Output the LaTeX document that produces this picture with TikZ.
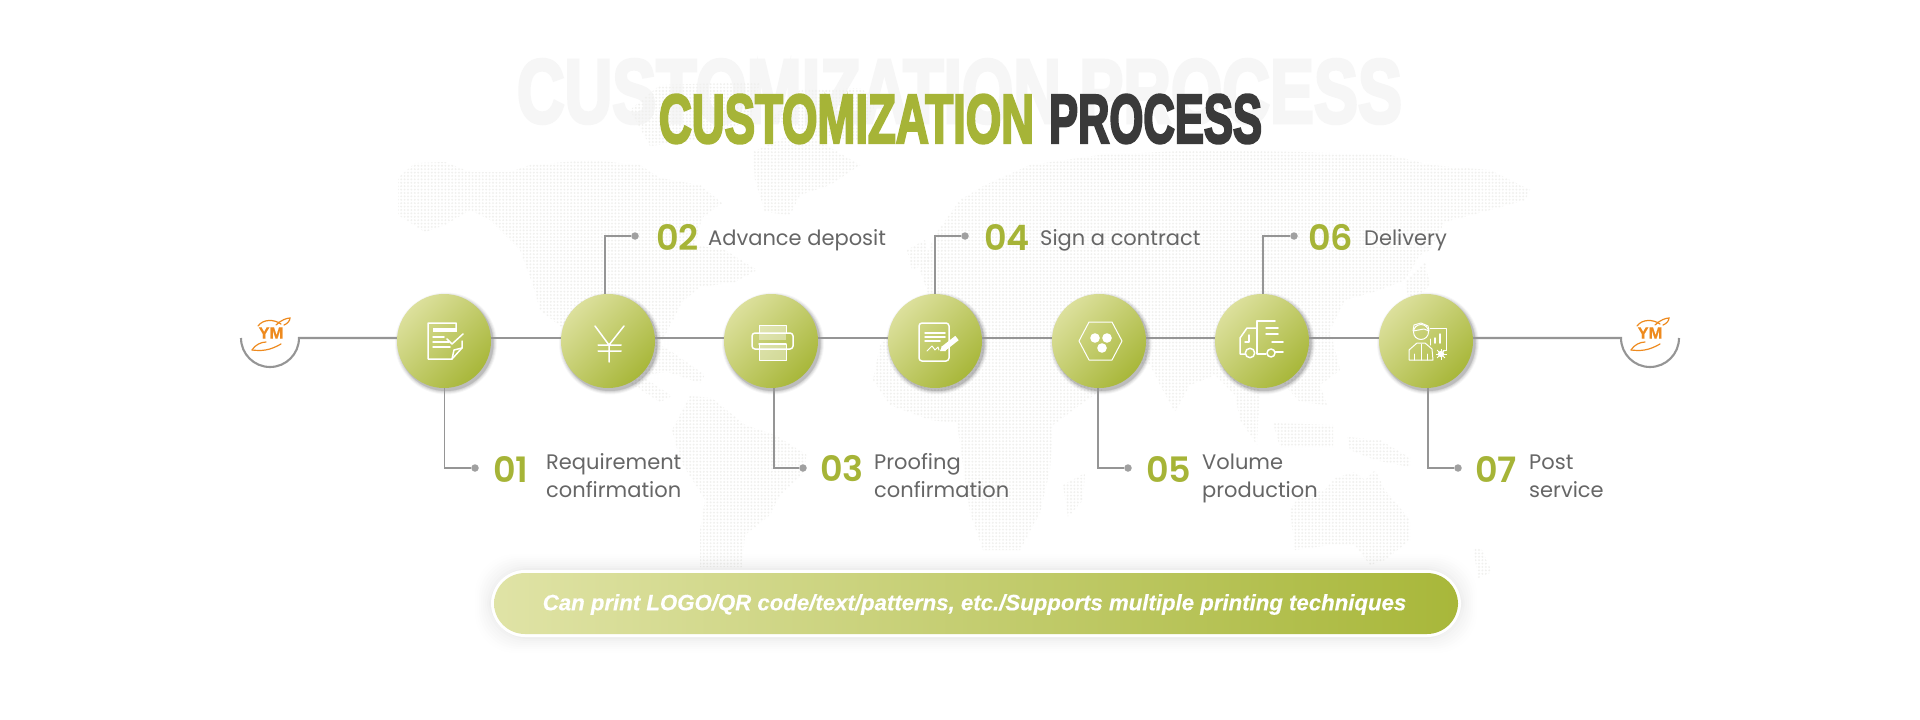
\documentclass[tikz,border=0pt]{standalone}
\usepackage{fontspec}
\usetikzlibrary{patterns.meta}
\setmainfont{Liberation Sans}
\newfontfamily\labf{Poppins}
\newfontfamily\numf{Poppins SemiBold}
\newfontfamily\titf[FakeBold=4]{Liberation Sans}
\newfontfamily\banf[FakeBold=.4]{Liberation Sans}
\definecolor{olive}{HTML}{A6B437}
\definecolor{dark}{HTML}{3A3A3A}
\definecolor{ghost}{HTML}{F6F6F6}
\definecolor{mapdot}{HTML}{F0F0EE}
\definecolor{linegray}{HTML}{959595}
\definecolor{labgray}{HTML}{666666}
\definecolor{ymorange}{HTML}{EE8A1E}
\definecolor{D1}{HTML}{DCE09C}
\definecolor{D2}{HTML}{A8B73A}
\tikzset{
  stepdisc/.style={circle,minimum size=94pt,inner sep=0pt,top color=D1,bottom color=D2,shading angle=45},
  conn/.style={draw=linegray,line width=2.1pt},
  brk/.style={draw=linegray,line width=1.9pt},
  enddot/.style={circle,fill=linegray!90,minimum size=7.5pt,inner sep=0pt},
  numlab/.style={anchor=west,inner sep=0pt,text=olive,font=\numf\fontsize{35}{35}\selectfont},
  steplab/.style={anchor=base west,inner sep=0pt,text=labgray,align=left,font=\labf\fontsize{21}{28}\selectfont},
  ico/.style={draw=white,line width=1.5pt,line cap=round,line join=round},
  icothin/.style={draw=white,line width=1pt,line cap=round,line join=round},
  land/.style={pattern={Dots[radius=1.05pt,distance=3.4pt]},pattern color=mapdot},
  swoosh/.style={draw=ymorange,line width=1.2pt,line cap=round},
}
\newcommand{\stepnode}[3]{%
  \foreach \r/\o in {51/.03,50/.05,49/.06,48/.07,47.5/.08}{\fill[black,opacity=\o] (#2+2,#3+2.5) circle (\r pt);}
  \node[stepdisc] (#1) at (#2,#3) {};}
\begin{document}
\begin{tikzpicture}[x=1pt,y=-1pt]
\useasboundingbox (0,0) rectangle (1920,720);
\fill[white] (0,0) rectangle (1920,720);
% ghost title
\node[inner sep=0pt,text=ghost] (ghost) at (959.5,91.5) {\resizebox{885pt}{63pt}{\titf\bfseries CUSTOMIZATION PROCESS}};
% world map
\path[land] (398,178) -- (415,163) -- (445,162) -- (470,172) -- (510,172) -- (530,165) -- (590,160) -- (640,165) -- (660,178) -- (700,185) -- (722,203) -- (702,218) -- (695,245) -- (725,250) -- (757,270) -- (735,282) -- (700,287) -- (682,302) -- (672,322) -- (660,345) -- (672,352) -- (705,375) -- (700,383) -- (668,372) -- (640,375) -- (672,396) -- (660,402) -- (625,380) -- (590,350) -- (565,330) -- (540,310) -- (533,285) -- (520,250) -- (490,220) -- (470,210) -- (445,225) -- (425,232) -- (398,215) -- cycle;
\path[land] (630,110) -- (660,85) -- (760,82) -- (750,120) -- (700,140) -- (650,146) -- cycle;
\path[land] (753,152) -- (790,135) -- (857,140) -- (878,100) -- (860,88) -- (800,90) -- (770,120) -- (800,130) -- (860,165) -- (830,185) -- (800,195) -- (790,215) -- (765,212) -- (755,180) -- cycle;
\path[land] (690,396) -- (712,398) -- (745,425) -- (775,435) -- (807,455) -- (802,475) -- (780,495) -- (770,515) -- (745,535) -- (742,567) -- (700,567) -- (700,530) -- (705,500) -- (680,460) -- (672,430) -- cycle;
\path[land] (930,300) -- (920,270) -- (935,235) -- (960,200) -- (985,185) -- (1030,165) -- (1100,155) -- (1200,150) -- (1300,152) -- (1390,155) -- (1430,165) -- (1490,170) -- (1530,190) -- (1525,200) -- (1490,210) -- (1445,222) -- (1430,250) -- (1420,255) -- (1405,280) -- (1380,290) -- (1345,300) -- (1330,330) -- (1340,370) -- (1320,385) -- (1327,405) -- (1300,402) -- (1280,380) -- (1260,385) -- (1257,445) -- (1240,420) -- (1235,395) -- (1215,375) -- (1190,385) -- (1175,412) -- (1160,385) -- (1150,365) -- (1125,360) -- (1110,385) -- (1087,400) -- (1053,425) -- (1050,470) -- (1040,513) -- (1020,550) -- (983,550) -- (970,513) -- (957,423) -- (930,420) -- (890,405) -- (873,380) -- (880,345) -- (900,320) -- cycle;
\path[land] (907,250) -- (925,240) -- (930,262) -- (912,270) -- cycle;
\path[land] (1063,485) -- (1085,473) -- (1083,500) -- (1068,517) -- cycle;
\path[land] (1273,423) -- (1333,425) -- (1333,447) -- (1280,447) -- cycle;
\path[land] (1347,437) -- (1380,440) -- (1410,458) -- (1410,467) -- (1375,460) -- (1350,450) -- cycle;
\path[land] (1290,510) -- (1300,495) -- (1325,490) -- (1335,478) -- (1355,472) -- (1365,480) -- (1375,470) -- (1385,490) -- (1410,520) -- (1410,540) -- (1385,560) -- (1370,565) -- (1355,545) -- (1330,545) -- (1295,550) -- cycle;
\path[land] (1473,547) -- (1482,550) -- (1492,572) -- (1478,578) -- cycle;
\path[land] (1405,282) -- (1425,262) -- (1430,285) -- (1410,305) -- cycle;
% title
\node[inner sep=0pt,text=olive] (title1) at (846.5,119) {\resizebox{375pt}{48pt}{\titf\bfseries CUSTOMIZATION}};
\node[inner sep=0pt,text=dark] (title2) at (1155.5,119) {\resizebox{213pt}{48pt}{\titf\bfseries PROCESS}};
% step discs
\stepnode{c1}{444}{341}
\stepnode{c2}{608}{341}
\stepnode{c3}{771}{341}
\stepnode{c4}{935}{341}
\stepnode{c5}{1099}{341}
\stepnode{c6}{1262}{341}
\stepnode{c7}{1426}{341}
% logos
\coordinate (arcLs) at (241,338);
\coordinate (arcLe) at (299,338);
\coordinate (arcRs) at (1621,338);
\coordinate (arcRe) at (1679,338);
\draw[conn] (arcLs) arc[start angle=180,end angle=360,radius=29pt] -- ([yshift=3pt]c1.west);
\draw[conn] ([yshift=3pt]c7.east) -- (arcRs) arc[start angle=180,end angle=360,radius=29pt];
\foreach \a/\b in {c1/c2,c2/c3,c3/c4,c4/c5,c5/c6,c6/c7}{\draw[conn] ([yshift=3pt]\a.east) -- ([yshift=3pt]\b.west);}
\foreach \n/\cx in {ymL/271,ymR/1650}{
  \node[inner sep=0pt,text=ymorange,font=\banf\bfseries\fontsize{16.5}{16}\selectfont] (\n) at (\cx,333) {YM};
  \begin{scope}[shift={(\n.center)}]
    \draw[swoosh] (-13,-7) .. controls (-8,-14) and (3,-14) .. (10,-9);
    \draw[swoosh] (5,-8) .. controls (10,-13) and (16,-15) .. (19,-15) .. controls (19,-12) and (16,-9) .. (13,-8);
    \draw[swoosh] (-19,17) .. controls (-16,12) and (-10,9) .. (-5,9);
    \draw[swoosh] (-19,17) .. controls (-10,18) and (-2,18) .. (10,11);
  \end{scope}
}
% brackets
\node[enddot] (d1) at (475,468) {};
\node[enddot] (d2) at (635,236) {};
\node[enddot] (d3) at (803,468) {};
\node[enddot] (d4) at (965,236) {};
\node[enddot] (d5) at (1128,468) {};
\node[enddot] (d6) at (1294,236) {};
\node[enddot] (d7) at (1458,468) {};
\draw[brk] ([xshift=.5pt]c1.south) |- (d1);
\draw[brk] ([xshift=-3pt]c2.north) |- (d2);
\draw[brk] ([xshift=3pt]c3.south) |- (d3);
\draw[brk] (c4.north) |- (d4);
\draw[brk] ([xshift=-1pt]c5.south) |- (d5);
\draw[brk] ([xshift=1pt]c6.north) |- (d6);
\draw[brk] ([xshift=2pt]c7.south) |- (d7);
% numbers and labels
\node[numlab] (n1) at (493,469) {01};
\node[numlab] (n2) at (656,237) {02};
\node[numlab] (n3) at (820,469) {03};
\node[numlab] (n4) at (984,237) {04};
\node[numlab] (n5) at (1146,469) {05};
\node[numlab] (n6) at (1308,237) {06};
\node[numlab] (n7) at (1475,469) {07};
\node[steplab] (l1) at (546,497) {Requirement\\confirmation};
\node[steplab] (l2) at (708,245) {Advance deposit};
\node[steplab] (l3) at (874,497) {Proofing\\confirmation};
\node[steplab] (l4) at (1040,245) {Sign a contract};
\node[steplab] (l5) at (1202,497) {Volume\\production};
\node[steplab] (l6) at (1364,245) {Delivery};
\node[steplab] (l7) at (1529,497) {Post\\service};
% icon 1: document with check
\begin{scope}[shift={(c1.center)}]
  \draw[ico] (12,-13) -- (12,-18) -- (-16,-18) -- (-16,18) -- (8,18) -- (18,7) -- (18,0);
  \draw[ico] (8,18) -- (10,9) -- (18,7);
  \fill[white] (-11,-13) rectangle (13,-9);
  \draw[ico] (-11,-4) -- (0,-4) (-11,1) -- (5,1) (-11,6) -- (6,6);
  \draw[ico] (3,-2) -- (8,3) -- (19,-7);
\end{scope}
% icon 2: yen
\begin{scope}[shift={(c2.center)}]
  \draw[ico] (-13,-15) -- (1,4) -- (16,-15) (1,4) -- (1,21) (-10,4) -- (13,4) (-10,10) -- (13,10);
\end{scope}
% icon 3: printer
\begin{scope}[shift={(c3.center)}]
  \fill[white,opacity=.4] (-12,-16) rectangle (15,-1);
  \draw[icothin] (-12,-8) -- (-12,-16) -- (15,-16) -- (15,-8);
  \draw[ico,rounded corners=3pt] (-19,-8) rectangle (22,8);
  \fill[white,opacity=.4] (-12,3) rectangle (15,19);
  \draw[icothin] (-12,3) rectangle (15,19);
  \draw[ico] (-12,3) -- (15,3);
\end{scope}
% icon 4: contract
\begin{scope}[shift={(c4.center)}]
  \draw[ico,rounded corners=3pt] (-16,-18) rectangle (14,20);
  \draw[ico] (-10,-8) -- (10,-8) (-10,-4) -- (10,-4) (-10,0) -- (5,0);
  \draw[icothin] (-8,10) -- (-3,5) -- (0,9) -- (3,6) -- (4,9);
  \draw[draw=white,line width=5.5pt] (8,8) -- (22,-3);
  \fill[white] (5,10) -- (7,5) -- (11,10) -- cycle;
\end{scope}
% icon 5: hexagon
\begin{scope}[shift={(c5.center)}]
  \draw[icothin] (-20,0) -- (-10,-19) -- (13,-19) -- (23,0) -- (13,19) -- (-10,19) -- cycle;
  \fill[white] (-4,-3) circle (4.8pt) (8,-3) circle (4.8pt) (3,7) circle (4.8pt);
\end{scope}
% icon 6: truck
\begin{scope}[shift={(c6.center)}]
  \draw[ico] (13,-20) -- (-5,-20) -- (-5,13) -- (4,13);
  \draw[ico] (-5,-13) -- (-15,-13) -- (-22,-3) -- (-22,13) -- (-17,13);
  \draw[ico] (-13,-6) -- (-13,1) -- (-17,1);
  \draw[ico] (-12,12) circle (4.7pt);
  \draw[ico] (9,12) circle (4pt);
  \draw[ico] (13,11) -- (21,11);
  \draw[ico] (4,-13) -- (16,-13) (4,-7) -- (16,-7) (10,1) -- (21,1);
\end{scope}
% icon 7: person
\begin{scope}[shift={(c7.center)}]
  \draw[icothin] (-5,-9) circle (7.5pt);
  \draw[icothin] (-13,-10) -- (-12,-16) -- (-5,-18) -- (2,-15) -- (3,-10) -- (-2,-12) -- (-13,-10);
  \draw[icothin] (-17,19) -- (-17,9) -- (-9,2) -- (-1,2) -- (6,8) -- (7,19) -- cycle;
  \draw[icothin] (-5,3) -- (-5,19) (-12,13) -- (-12,19) (1,13) -- (1,19);
  \draw[icothin] (4,-13) -- (20,-13) -- (20,9) -- (17,9) (4,-2) -- (4,4);
  \draw[ico] (9,-3) -- (9,2) (14,-7) -- (14,2);
  \fill[white] (15,13) circle (3.2pt);
  \foreach \ang in {0,45,...,315}{\draw[white,line width=1pt] (15,13) -- ++(\ang:5.5pt);}
\end{scope}
% banner
\foreach \g/\o in {16/.004,14/.005,12/.006,10/.007,8/.008,6/.009,4/.011,2/.014}{
  \fill[black,opacity=\o,rounded corners=40pt] (491-\g,570-\g) rectangle (1461+\g,637+\g);}
\fill[white,rounded corners=34pt] (491,570) rectangle (1461,637);
\shade[left color=D1!90!white,right color=D2,rounded corners=31pt] (494,573) rectangle (1458,634);
\node[inner sep=0pt,text=white,font=\banf\bfseries\itshape\fontsize{22.2}{22}\selectfont] (banner) at (974.5,604.5) {Can print LOGO/QR code/text/patterns, etc./Supports multiple printing techniques};
\end{tikzpicture}
\end{document}
